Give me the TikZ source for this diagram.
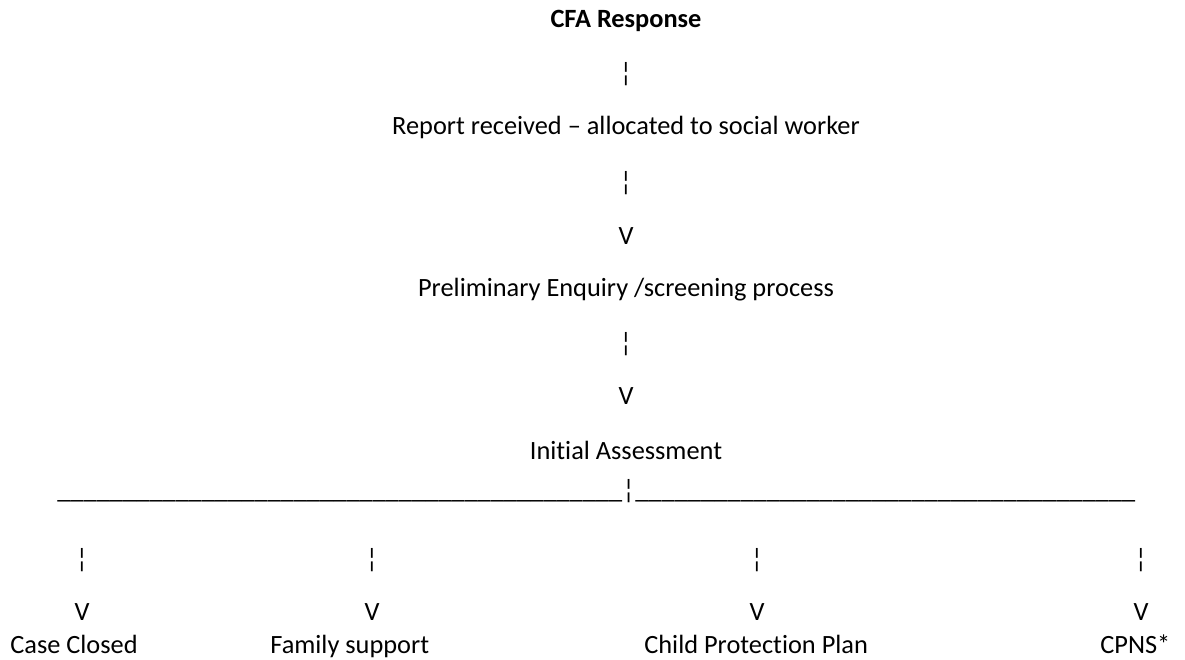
\documentclass[tikz,border=0pt]{standalone}
\usepackage{fontspec}
\setmainfont{Carlito}[Ligatures=NoCommon]
\usepackage{tikz}

\newcommand{\underscorerun}[1]{\hbox to #1{\xleaders\hbox{\_}\hfill}}

\begin{document}
\begin{tikzpicture}[x=0.02cm, y=-0.02cm]
 	\tikzstyle{main}=[inner sep=0pt, font=\fontsize{15}{18}\selectfont]
 	\tikzstyle{textline}=[main, anchor=base]
 	\tikzstyle{glyph}=[main, anchor=center]
 	\useasboundingbox (0,0) rectangle (1185,659);
 	\node[textline] (cfa) at (626,28) {\textbf{CFA Response}};
 	\node[glyph] (bar1) at (626,74) {¦};
 	\node[textline] (report) at (626,134) {Report received – allocated to social worker};
 	\node[glyph] (bar2) at (626,183) {¦};
 	\node[glyph] (v1) at (626,236) {V};
 	\node[textline] (enquiry) at (626,296) {Preliminary Enquiry /screening process};
 	\node[glyph] (bar3) at (626,344) {¦};
 	\node[glyph] (v2) at (626,396) {V};
 	\node[textline] (initial) at (626,459) {Initial Assessment};
 	\node[main, anchor=base west] (split) at (57,498) {\underscorerun{11.3cm}¦\underscorerun{10.0cm}};
 	\node[glyph] (barA) at (82,560) {¦};
 	\node[glyph] (barB) at (372,560) {¦};
 	\node[glyph] (barC) at (757,560) {¦};
 	\node[glyph] (barD) at (1141,560) {¦};
 	\node[glyph] (vA) at (82,612) {V};
 	\node[glyph] (vB) at (372,612) {V};
 	\node[glyph] (vC) at (757,612) {V};
 	\node[glyph] (vD) at (1141,612) {V};
 	\node[main, anchor=base west] (closed) at (10,653) {Case Closed};
 	\node[main, anchor=base west] (support) at (270,653) {Family support};
 	\node[main, anchor=base west] (plan) at (644,653) {Child Protection Plan};
 	\node[main, anchor=base west] (cpns) at (1100,653) {CPNS*};
\end{tikzpicture}
\end{document}
